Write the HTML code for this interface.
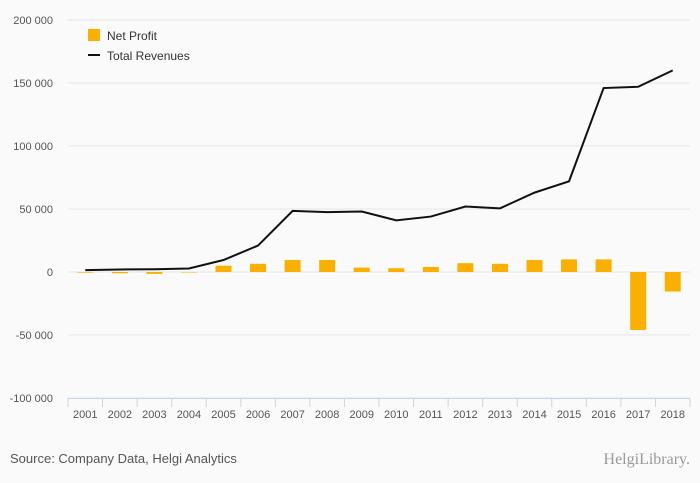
<!DOCTYPE html>
<html><head><meta charset="utf-8"><style>
body{margin:0;background:#fafafa;font-family:"Liberation Sans",sans-serif;}
</style></head><body>
<svg id="c" width="700" height="483" style="display:block">
<rect width="700" height="483" fill="#fafafa"/>
<g id="grid"></g>
<g id="bars"></g>
<path id="line" fill="none" stroke="#111" stroke-width="2"/>
<g id="axis"></g>
<g>
<rect x="88" y="29" width="12" height="12" fill="#f9b000"/>
<text x="107" y="40" font-size="12" fill="#333">Net Profit</text>
<line x1="88" y1="55" x2="100" y2="55" stroke="#111" stroke-width="2"/>
<text x="107" y="60" font-size="12" fill="#333">Total Revenues</text>
</g>
<text x="10" y="463" font-size="13" fill="#555">Source: Company Data, Helgi Analytics</text>
<text x="690" y="464" font-size="16" fill="#999" text-anchor="end" font-family="Liberation Serif, serif">HelgiLibrary.</text>
</svg>
<script>
const years=["2001","2002","2003","2004","2005","2006","2007","2008","2009","2010","2011","2012","2013","2014","2015","2016","2017","2018"];
const revenues=[1500,2000,2200,2800,9500,21000,48500,47500,48000,41000,44000,52000,50500,63000,72000,146000,147000,160000];
const netProfit=[-500,-1000,-1500,0,5000,6500,9500,9500,3500,3000,4000,7000,6500,9500,10000,10000,-46000,-15500];
const yTicks=[200000,150000,100000,50000,0,-50000,-100000];
const yTickLabels=["200 000","150 000","100 000","50 000","0","-50 000","-100 000"];
const NS="http://www.w3.org/2000/svg";
const x0=68,x1=690,bw=(x1-x0)/years.length;
const y=v=>272-v*63/50000;
const xc=i=>x0+bw*(i+0.5);
function mk(t,a,p){const e=document.createElementNS(NS,t);for(const k in a)e.setAttribute(k,a[k]);p.appendChild(e);return e;}
const g=document.getElementById('grid');
yTicks.forEach((t,i)=>{
 const l=mk('line',{x1:x0,x2:x1,y1:y(t),y2:y(t),stroke:'#e6e6e6'},g);
 
 
 const tx=mk('text',{x:53,y:y(t)+4,'font-size':11,fill:'#555','text-anchor':'end'},g);
 tx.textContent=yTickLabels[i];
 
 
});
const b=document.getElementById('bars');
netProfit.forEach((v,i)=>{
 const r=mk('rect',{x:xc(i)-8,width:16,y:Math.min(y(v),y(0)),height:Math.max(Math.abs(y(v)-y(0)),0.5),fill:'#f9b000'},b);
 
 
});
document.getElementById('line').setAttribute('d',revenues.map((v,i)=>(i?'L':'M')+xc(i)+','+y(v)).join(''));
const a=document.getElementById('axis');
mk('line',{x1:x0,x2:x1,y1:398.5,y2:398.5,stroke:'#c8d4ea'},a);
for(let i=0;i<=years.length;i++){mk('line',{x1:x0+bw*i,x2:x0+bw*i,y1:398,y2:407,stroke:'#c8d4ea'},a);}
years.forEach((yr,i)=>{
 const t=mk('text',{x:xc(i),y:418,'font-size':11,fill:'#555','text-anchor':'middle'},a);
 t.textContent=yr;
 
 
});
</script>
</body></html>
